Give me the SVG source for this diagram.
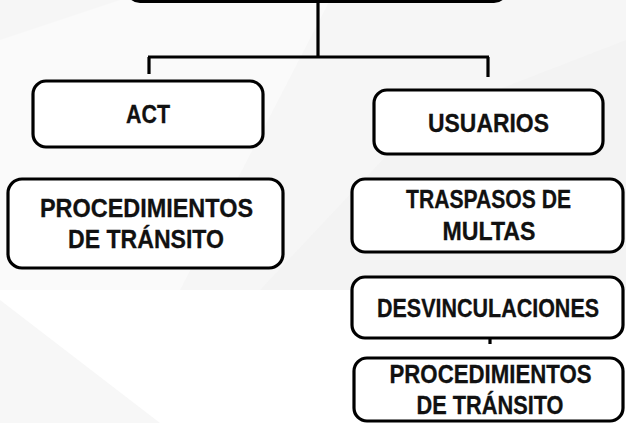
<svg xmlns="http://www.w3.org/2000/svg" width="626" height="423" viewBox="0 0 626 423">
<style>
.box{fill:#ffffff;stroke:#000;stroke-width:3.2}
.lbl{font-family:"Liberation Sans",Arial,sans-serif;font-weight:bold;font-size:25.5px;fill:#111;stroke:#111;stroke-width:0.3;text-anchor:middle}
.con{stroke:#000;stroke-width:3.2;fill:none}
</style>
<rect x="0" y="0" width="626" height="423" fill="#ffffff"/>
<polygon points="0,0 626,0 626,290 0,290" fill="#f6f6f6"/>
<polygon points="0,40 120,0 330,0 180,290 0,290" fill="#fafafa"/>
<polygon points="260,290 420,120 626,40 626,290" fill="#f3f3f3"/>
<polygon points="0,290 350,290 350,423 0,423" fill="#ffffff"/>
<polygon points="0,300 160,423 0,423" fill="#f7f7f7"/>

<g id="connectors">
<line class="con" x1="318" y1="2" x2="318" y2="56"/>
<line class="con" x1="148" y1="57" x2="489" y2="57"/>
<line class="con" x1="149" y1="57" x2="149" y2="74"/>
<line class="con" x1="488" y1="57" x2="488" y2="77"/>
<line class="con" x1="490" y1="339" x2="490" y2="344" stroke-width="2"/>
</g>

<g id="top">
<rect class="box" x="128" y="-40" width="378" height="41.5" rx="12"/>
</g>

<g id="act">
<rect class="box" x="33" y="81" width="230" height="66" rx="13"/>
<text class="lbl" x="148" y="123" textLength="44" lengthAdjust="spacingAndGlyphs">ACT</text>
</g>

<g id="usuarios">
<rect class="box" x="374" y="90" width="229" height="64" rx="13"/>
<text class="lbl" x="488.5" y="132" textLength="121" lengthAdjust="spacingAndGlyphs">USUARIOS</text>
</g>

<g id="proc-left">
<rect class="box" x="8" y="179" width="275" height="89" rx="14"/>
<text class="lbl" x="146.5" y="217" textLength="213" lengthAdjust="spacingAndGlyphs">PROCEDIMIENTOS</text>
<text class="lbl" x="146" y="248" textLength="156" lengthAdjust="spacingAndGlyphs">DE TRÁNSITO</text>
</g>

<g id="traspasos">
<rect class="box" x="352" y="179" width="271" height="73" rx="13"/>
<text class="lbl" x="488.5" y="208" textLength="165" lengthAdjust="spacingAndGlyphs">TRASPASOS DE</text>
<text class="lbl" x="489" y="240" textLength="93" lengthAdjust="spacingAndGlyphs">MULTAS</text>
</g>

<g id="desvinculaciones">
<rect class="box" x="352" y="277" width="271" height="61" rx="13"/>
<text class="lbl" transform="translate(488,317) scale(0.843,1)" x="0" y="0">DESVINCULACIONES</text>
</g>

<g id="proc-right">
<rect class="box" x="354" y="358" width="269" height="63" rx="13"/>
<text class="lbl" x="490.5" y="383" textLength="202" lengthAdjust="spacingAndGlyphs">PROCEDIMIENTOS</text>
<text class="lbl" x="490" y="414" textLength="147" lengthAdjust="spacingAndGlyphs">DE TRÁNSITO</text>
</g>
</svg>
